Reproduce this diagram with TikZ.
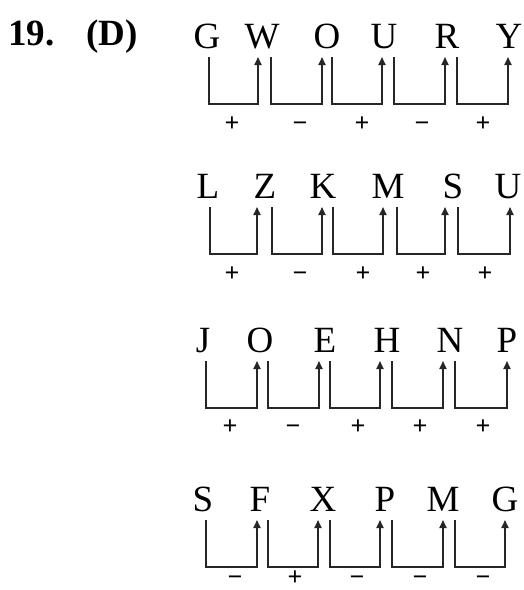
\documentclass[tikz,border=0pt]{standalone}
\usepackage{fontspec}
\setmainfont{Liberation Serif}
\usetikzlibrary{arrows.meta}
\tikzset{
  letter/.style={anchor=base,inner sep=0pt,font=\fontsize{37}{40}\selectfont},
  lbl/.style={anchor=base west,inner sep=0pt,font=\fontsize{37}{40}\selectfont\bfseries},
  sgn/.style={anchor=base,inner sep=0pt,font=\fontsize{26}{28}\selectfont\bfseries},
  conn/.style={line width=1.8pt,black!85,-{Triangle[length=8pt,width=7pt]}},
}
\begin{document}
\begin{tikzpicture}[x=1pt,y=-1pt]
\useasboundingbox (0,0) rectangle (524,590);
\node[lbl] (num) at (8,45) {19.};
\node[lbl] (ans) at (86,45) {(D)};
% row 1
\foreach \n/\x/\t in {a/207/G,b/262/W,c/327/O,d/384/U,e/447/R,f/509/Y}
  \node[letter] (r1\n) at (\x,48) {\t};
% row 2
\foreach \n/\x/\t in {a/208/L,b/265/Z,c/323/K,d/388/M,e/453/S,f/508/U}
  \node[letter] (r2\n) at (\x,198) {\t};
% row 3
\foreach \n/\x/\t in {a/203/J,b/260/O,c/325/E,d/387/H,e/450/N,f/507/P}
  \node[letter] (r3\n) at (\x,352) {\t};
% row 4
\foreach \n/\x/\t in {a/203/S,b/260/F,c/323/X,d/385/P,e/443/M,f/505/G}
  \node[letter] (r4\n) at (\x,511) {\t};
% connectors
\foreach \r/\p/\q/\s/\e in {
  1/a/b/2/-4, 1/b/c/9/-5, 1/c/d/5/-2, 1/d/e/10/-2, 1/e/f/10/-1,
  2/a/b/2/-8, 2/b/c/7/-1, 2/c/d/10/-5, 2/d/e/9/-8, 2/e/f/5/2,
  3/a/b/3/-3, 3/b/c/8/-6, 3/c/d/5/-7, 3/d/e/5/-7, 3/e/f/5/0,
  4/a/b/3/-3, 4/b/c/8/-5, 4/c/d/7/-5, 4/d/e/7/0, 4/e/f/12/0}
  \draw[conn] ([xshift=\s pt,yshift=-9pt]r\r\p.base) -- ++(0,47)
     -| ([xshift=\e pt,yshift=-9pt]r\r\q.base);
% signs
\foreach \i/\x/\t in {1/232/+,2/300/−,3/362/+,4/422/−,5/483/+}
  \node[sgn] (s1\i) at (\x,131) {\t};
\foreach \i/\x/\t in {1/232/+,2/300/−,3/363/+,4/423/+,5/485/+}
  \node[sgn] (s2\i) at (\x,281) {\t};
\foreach \i/\x/\t in {1/230/+,2/293/−,3/358/+,4/420/+,5/483/+}
  \node[sgn] (s3\i) at (\x,434) {\t};
\foreach \i/\x/\t in {1/235/−,2/295/+,3/357/−,4/420/−,5/483/−}
  \node[sgn] (s4\i) at (\x,585) {\t};
\end{tikzpicture}
\end{document}
